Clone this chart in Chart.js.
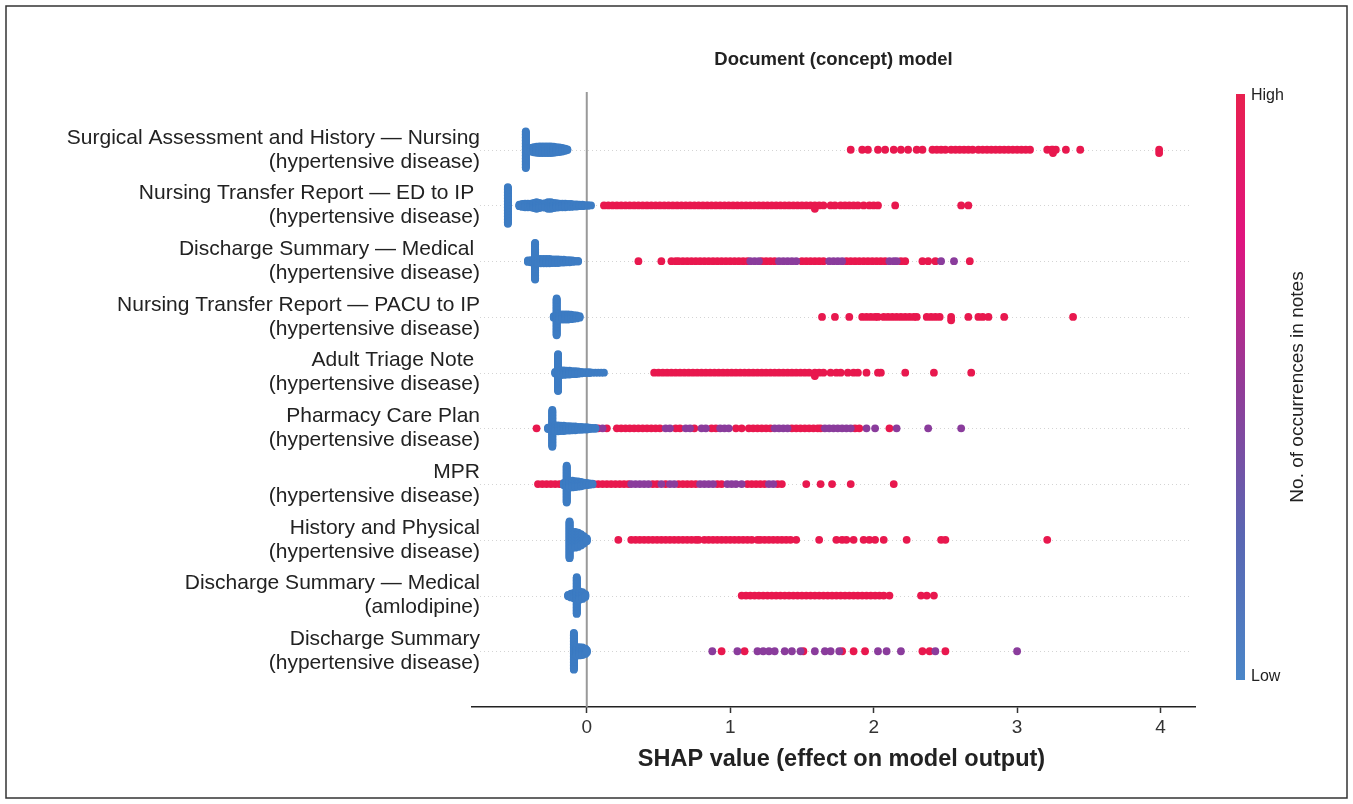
<!DOCTYPE html>
<html>
<head>
<meta charset="utf-8">
<title>Document (concept) model</title>
<script src="https://cdn.jsdelivr.net/npm/chart.js@4.4.0/dist/chart.umd.min.js"></script>
<style>
  html, body { margin: 0; padding: 0; background: #fff; }
  #wrap { width: 1353px; height: 804px; }
</style>
</head>
<body>
<div id="wrap"><canvas id="shap" width="1353" height="804"></canvas></div>
<script>
// feature labels, top row first
const labels = [
  ['Surgical Assessment and History \u2014 Nursing', '(hypertensive disease)'],
  ['Nursing Transfer Report \u2014 ED to IP ', '(hypertensive disease)'],
  ['Discharge Summary \u2014 Medical ', '(hypertensive disease)'],
  ['Nursing Transfer Report \u2014 PACU to IP', '(hypertensive disease)'],
  ['Adult Triage Note ', '(hypertensive disease)'],
  ['Pharmacy Care Plan', '(hypertensive disease)'],
  ['MPR', '(hypertensive disease)'],
  ['History and Physical', '(hypertensive disease)'],
  ['Discharge Summary \u2014 Medical', '(amlodipine)'],
  ['Discharge Summary', '(hypertensive disease)']
];

const xTicks = [0, 1, 2, 3, 4];

// low-occurrence (blue) SHAP values per row, with how many notes sit at each value
const blueX = [
  [-0.425, -0.41, -0.39, -0.37, -0.35, -0.33, -0.31, -0.29, -0.27, -0.25, -0.23, -0.21, -0.19, -0.17, -0.15, -0.135],
  [-0.55, -0.47, -0.45, -0.43, -0.41, -0.39, -0.37, -0.35, -0.33, -0.31, -0.29, -0.27, -0.25, -0.23, -0.21, -0.19, -0.17, -0.15, -0.13, -0.11, -0.09, -0.07, -0.05, -0.03, -0.01, 0.01, 0.03],
  [-0.41, -0.39, -0.37, -0.36, -0.34, -0.32, -0.30, -0.28, -0.26, -0.24, -0.22, -0.20, -0.18, -0.16, -0.14, -0.12, -0.10, -0.08, -0.06],
  [-0.23, -0.21, -0.19, -0.17, -0.15, -0.13, -0.11, -0.09, -0.07, -0.05],
  [-0.22, -0.20, -0.18, -0.16, -0.14, -0.12, -0.10, -0.08, -0.06, -0.04, -0.02, 0.00, 0.02, 0.04, 0.06, 0.08, 0.10, 0.12],
  [-0.27, -0.24, -0.22, -0.20, -0.18, -0.16, -0.14, -0.12, -0.10, -0.08, -0.06, -0.04, -0.02, 0.00, 0.02, 0.04, 0.06],
  [-0.16, -0.14, -0.12, -0.10, -0.08, -0.06, -0.04, -0.02, 0.00, 0.02, 0.04],
  [-0.12, -0.10, -0.08, -0.06, -0.04, -0.02, 0.00],
  [-0.13, -0.11, -0.09, -0.07, -0.05, -0.03, -0.01],
  [-0.09, -0.07, -0.05, -0.03, -0.01, 0.00]
];
const blueN = [
  [50, 4, 6, 8, 9, 10, 10, 10, 10, 10, 9, 8, 7, 6, 4, 2],
  [50, 3, 5, 6, 6, 6, 8, 10, 8, 6, 7, 10, 10, 8, 7, 6, 6, 6, 5, 5, 4, 4, 3, 3, 2, 2, 1],
  [3, 4, 5, 52, 7, 7, 7, 7, 7, 6, 6, 6, 5, 5, 4, 4, 3, 2, 2],
  [3, 50, 8, 8, 8, 8, 7, 6, 5, 3],
  [3, 50, 7, 7, 6, 6, 5, 5, 4, 3, 2, 2, 2, 1, 1, 1, 1, 1],
  [3, 50, 9, 9, 8, 8, 7, 7, 6, 6, 5, 5, 4, 4, 3, 2, 2],
  [4, 50, 10, 10, 9, 8, 7, 5, 4, 3, 2],
  [50, 22, 22, 20, 16, 11, 5],
  [3, 6, 8, 50, 12, 10, 5],
  [50, 12, 12, 11, 8, 4]
];

// high-occurrence (red) SHAP values per row
const redX = [
  [1.84, 1.92, 1.96, 2.03, 2.08, 2.14, 2.19, 2.24, 2.30, 2.34, 2.41, 2.44, 2.47, 2.50, 2.54, 2.57, 2.60, 2.63, 2.66, 2.69, 2.73, 2.76, 2.79, 2.82, 2.85, 2.88, 2.91, 2.94, 2.97, 3.00, 3.03, 3.06, 3.09, 3.21, 3.24, 3.25, 3.25, 3.27, 3.34, 3.44, 3.99, 3.99],
  [0.12, 0.15, 0.18, 0.21, 0.24, 0.27, 0.30, 0.33, 0.36, 0.39, 0.42, 0.45, 0.48, 0.51, 0.54, 0.57, 0.60, 0.63, 0.66, 0.69, 0.72, 0.75, 0.78, 0.81, 0.84, 0.87, 0.90, 0.93, 0.96, 0.99, 1.02, 1.05, 1.08, 1.11, 1.14, 1.17, 1.20, 1.23, 1.26, 1.29, 1.32, 1.35, 1.38, 1.41, 1.44, 1.47, 1.50, 1.53, 1.56, 1.59, 1.59, 1.62, 1.65, 1.70, 1.73, 1.77, 1.80, 1.83, 1.86, 1.89, 1.93, 1.97, 2.00, 2.03, 2.15, 2.61, 2.66],
  [0.36, 0.52, 0.59, 0.62, 0.64, 0.67, 0.70, 0.73, 0.76, 0.79, 0.82, 0.85, 0.88, 0.91, 0.94, 0.97, 1.00, 1.03, 1.06, 1.09, 1.12, 1.22, 1.25, 1.28, 1.31, 1.50, 1.53, 1.56, 1.59, 1.62, 1.65, 1.81, 1.84, 1.87, 1.90, 1.93, 1.96, 1.99, 2.02, 2.05, 2.08, 2.19, 2.22, 2.34, 2.38, 2.43, 2.67],
  [1.64, 1.73, 1.83, 1.92, 1.95, 1.98, 2.01, 2.03, 2.07, 2.10, 2.13, 2.16, 2.19, 2.22, 2.25, 2.28, 2.30, 2.37, 2.40, 2.43, 2.46, 2.54, 2.54, 2.66, 2.73, 2.76, 2.80, 2.91, 3.39],
  [0.47, 0.50, 0.53, 0.56, 0.59, 0.62, 0.65, 0.68, 0.71, 0.74, 0.77, 0.80, 0.83, 0.86, 0.89, 0.92, 0.95, 0.98, 1.01, 1.04, 1.07, 1.10, 1.13, 1.16, 1.19, 1.22, 1.25, 1.28, 1.31, 1.34, 1.37, 1.40, 1.43, 1.46, 1.49, 1.52, 1.55, 1.59, 1.59, 1.62, 1.65, 1.70, 1.74, 1.77, 1.82, 1.86, 1.89, 1.95, 2.03, 2.05, 2.22, 2.42, 2.68],
  [-0.35, 0.08, 0.14, 0.21, 0.24, 0.27, 0.30, 0.33, 0.36, 0.39, 0.42, 0.45, 0.48, 0.51, 0.62, 0.65, 0.75, 0.87, 0.90, 1.04, 1.08, 1.13, 1.16, 1.19, 1.22, 1.25, 1.28, 1.43, 1.46, 1.49, 1.52, 1.55, 1.58, 1.61, 1.63, 1.87, 1.90, 2.11],
  [-0.34, -0.31, -0.28, -0.25, -0.22, -0.19, 0.05, 0.08, 0.11, 0.14, 0.17, 0.20, 0.23, 0.26, 0.29, 0.46, 0.49, 0.55, 0.64, 0.67, 0.70, 0.73, 0.76, 0.91, 0.94, 1.12, 1.15, 1.18, 1.21, 1.24, 1.33, 1.36, 1.53, 1.63, 1.71, 1.84, 2.14],
  [0.22, 0.31, 0.34, 0.37, 0.40, 0.43, 0.46, 0.49, 0.52, 0.55, 0.58, 0.61, 0.64, 0.67, 0.70, 0.73, 0.76, 0.78, 0.82, 0.85, 0.88, 0.91, 0.94, 0.97, 1.00, 1.03, 1.06, 1.09, 1.12, 1.15, 1.19, 1.21, 1.24, 1.27, 1.30, 1.33, 1.36, 1.39, 1.42, 1.46, 1.62, 1.74, 1.78, 1.81, 1.86, 1.93, 1.97, 2.01, 2.07, 2.23, 2.47, 2.50, 3.21],
  [1.08, 1.11, 1.14, 1.17, 1.20, 1.23, 1.26, 1.29, 1.32, 1.35, 1.38, 1.41, 1.44, 1.47, 1.50, 1.53, 1.56, 1.59, 1.62, 1.65, 1.68, 1.71, 1.74, 1.77, 1.80, 1.83, 1.86, 1.89, 1.92, 1.95, 1.98, 2.01, 2.04, 2.07, 2.11, 2.33, 2.37, 2.42],
  [0.94, 1.10, 1.51, 1.78, 1.86, 1.94, 2.34, 2.39, 2.50]
];

// mid-range (purple) SHAP values per row
const purpleX = [
  [],
  [],
  [1.14, 1.17, 1.20, 1.34, 1.37, 1.40, 1.43, 1.46, 1.69, 1.72, 1.75, 1.78, 2.11, 2.14, 2.16, 2.47, 2.56],
  [],
  [],
  [0.11, 0.55, 0.58, 0.69, 0.72, 0.80, 0.83, 0.93, 0.96, 0.99, 1.31, 1.34, 1.37, 1.40, 1.66, 1.69, 1.72, 1.75, 1.78, 1.81, 1.84, 1.95, 2.01, 2.16, 2.38, 2.61],
  [0.31, 0.34, 0.37, 0.40, 0.43, 0.52, 0.58, 0.61, 0.79, 0.82, 0.85, 0.88, 0.98, 1.01, 1.04, 1.08, 1.27, 1.30],
  [],
  [],
  [0.875, 1.05, 1.19, 1.23, 1.27, 1.31, 1.38, 1.43, 1.49, 1.59, 1.66, 1.70, 1.76, 2.03, 2.09, 2.19, 2.43, 3.00]
];

const BLUE = '#3d7cc3';
const RED = '#e8184e';
const PURPLE = '#8a3c9c';
const FONT = '"Liberation Sans", Arial, Helvetica, sans-serif';

// beeswarm: notes sharing a value are stacked around the row centre
const pts = { blue: [], red: [], purple: [] };
labels.forEach((_, r) => {
  const m = Math.max(...blueN[r]);
  const step = 0.66 / (m - 1);
  blueX[r].forEach((x, j) => {
    const n = blueN[r][j];
    for (let k = 0; k < n; k++) pts.blue.push({ x: x, y: r + (k - (n - 1) / 2) * step });
  });
  [['red', redX], ['purple', purpleX]].forEach(([key, src]) => {
    const seen = {};
    src[r].forEach(x => {
      const c = seen[x] = (seen[x] || 0) + 1;
      const off = c === 1 ? 0 : (c % 2 ? -1 : 1) * Math.floor(c / 2) * 0.06;
      pts[key].push({ x: x, y: r + off });
    });
  });
});

const decor = {
  id: 'decor',
  beforeDatasetsDraw(chart) {
    const { ctx, chartArea: a, scales: { x, y } } = chart;
    ctx.save();
    // faint dotted row guides
    ctx.strokeStyle = '#d4d4d4';
    ctx.lineWidth = 1;
    ctx.setLineDash([1, 3]);
    labels.forEach((_, r) => {
      const py = Math.round(y.getPixelForValue(r)) + 0.5;
      ctx.beginPath();
      ctx.moveTo(a.left + 8, py);
      ctx.lineTo(a.right - 5, py);
      ctx.stroke();
    });
    ctx.setLineDash([]);
    // zero line
    const x0 = x.getPixelForValue(0);
    ctx.strokeStyle = '#999';
    ctx.lineWidth = 2;
    ctx.beginPath();
    ctx.moveTo(x0, a.top - 2);
    ctx.lineTo(x0, a.bottom);
    ctx.stroke();
    ctx.restore();
  },
  afterDraw(chart) {
    const { ctx, chartArea: a, scales: { y } } = chart;
    ctx.save();
    ctx.fillStyle = '#222';

    // row labels
    ctx.font = '21px ' + FONT;
    ctx.textAlign = 'right';
    ctx.textBaseline = 'middle';
    labels.forEach((lines, r) => {
      const py = y.getPixelForValue(r);
      ctx.fillText(lines[0], a.left + 8, py - 12);
      ctx.fillText(lines[1], a.left + 8, py + 12);
    });

    // titles
    ctx.textAlign = 'center';
    ctx.font = 'bold 18.5px ' + FONT;
    ctx.fillText('Document (concept) model', (a.left + a.right) / 2, 60);
    ctx.font = 'bold 23.5px ' + FONT;
    ctx.fillText('SHAP value (effect on model output)', (a.left + a.right) / 2 + 8, 760);

    // colour bar
    const cb = { x: 1236, top: 94, bottom: 680, w: 9 };
    const g = ctx.createLinearGradient(0, cb.top, 0, cb.bottom);
    g.addColorStop(0, '#e8204f');
    g.addColorStop(0.25, '#e0147f');
    g.addColorStop(0.5, '#923c98');
    g.addColorStop(0.75, '#5a66b2');
    g.addColorStop(1, '#4a86c8');
    ctx.fillStyle = g;
    ctx.fillRect(cb.x, cb.top, cb.w, cb.bottom - cb.top);
    ctx.fillStyle = '#222';
    ctx.font = '16px ' + FONT;
    ctx.textAlign = 'left';
    ctx.fillText('High', 1251, 96);
    ctx.fillText('Low', 1251, 677);
    ctx.save();
    ctx.translate(1298, (cb.top + cb.bottom) / 2);
    ctx.rotate(-Math.PI / 2);
    ctx.textAlign = 'center';
    ctx.font = '19px ' + FONT;
    ctx.fillText('No. of occurrences in notes', 0, 0);
    ctx.restore();

    // frame
    ctx.strokeStyle = '#333';
    ctx.lineWidth = 1.5;
    ctx.strokeRect(6, 6, 1341, 792);
    ctx.restore();
  }
};

new Chart(document.getElementById('shap'), {
  type: 'scatter',
  data: {
    datasets: [
      { label: 'Low', data: pts.blue, backgroundColor: BLUE },
      { label: 'Mid', data: pts.purple, backgroundColor: PURPLE },
      { label: 'High', data: pts.red, backgroundColor: RED }
    ]
  },
  options: {
    responsive: false,
    animation: false,
    events: [],
    layout: { autoPadding: false, padding: { left: 472, right: 158, top: 94, bottom: 57 } },
    elements: { point: { radius: 3.9, hoverRadius: 3.9, borderWidth: 0 } },
    plugins: { legend: { display: false }, tooltip: { enabled: false } },
    scales: {
      x: {
        type: 'linear',
        min: -0.8,
        max: 4.24,
        afterBuildTicks: s => { s.ticks = xTicks.map(v => ({ value: v })); },
        afterFit: s => { s.height = 40; },
        grid: { drawOnChartArea: false, drawTicks: true, tickLength: 6, tickWidth: 1.5, tickColor: '#333' },
        border: { display: true, color: '#222', width: 1.5 },
        ticks: { font: { family: FONT, size: 19 }, color: '#333', padding: 3 }
      },
      y: { type: 'linear', display: false, reverse: true, min: -1, max: 10 }
    }
  },
  plugins: [decor]
});
</script>
</body>
</html>
